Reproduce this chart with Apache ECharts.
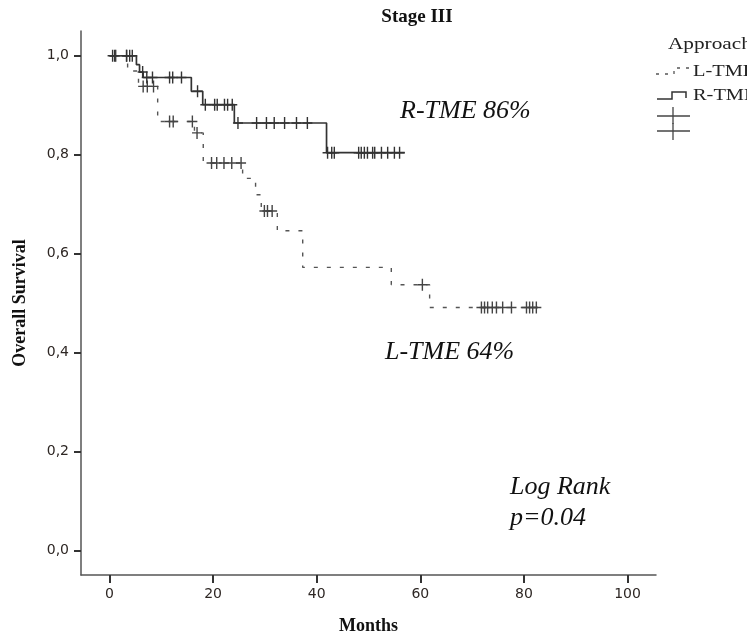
<!DOCTYPE html>
<html>
<head>
<meta charset="utf-8">
<script src="https://cdn.jsdelivr.net/npm/echarts@6/dist/echarts.min.js"></script>
<style>
  html, body { margin: 0; padding: 0; background: #fff; }
  #chart { width: 747px; height: 640px; }
</style>
</head>
<body>
<div id="chart"></div>
<script>
// Kaplan-Meier steps (months, survival after the event)
const lTime = [0, 3.5, 5.6, 9.3, 16.4, 18.1, 25.7, 28.2, 29.3, 32.4, 37.3, 54.4, 61.8, 83.4];
const lSurv = [1, 0.969, 0.938, 0.867, 0.844, 0.783, 0.752, 0.719, 0.686, 0.646, 0.572, 0.537, 0.491, 0.491];
const lCens = [1.2, 3.3, 6.5, 7.3, 8.5, 11.6, 12.3, 16.0, 16.9, 19.7, 20.7, 22.1, 23.6, 25.4,
  29.9, 30.5, 31.4, 60.4, 71.8, 72.4, 73.0, 73.9, 74.7, 75.9, 77.6, 80.5, 81.1, 81.7, 82.4];

const rTime = [0, 5.2, 5.8, 6.5, 15.8, 18.0, 24.1, 41.9, 57];
const rSurv = [1, 0.982, 0.967, 0.956, 0.928, 0.901, 0.864, 0.804, 0.804];
const rCens = [0.6, 1.0, 3.3, 3.9, 4.4, 6.4, 7.2, 8.3, 11.6, 12.2, 13.9, 17.0, 18.5, 20.3, 20.8,
  22.2, 22.8, 23.7, 24.8, 28.4, 30.3, 31.8, 33.8, 36.1, 38.2, 42.1, 42.9, 43.4, 48.1, 48.6,
  49.2, 49.8, 50.8, 51.2, 52.5, 53.7, 55.0, 56.0];

const xTicks = [0, 20, 40, 60, 80, 100];
const yTicks = [0, 0.2, 0.4, 0.6, 0.8, 1.0];

// survival level at time t from the step arrays
function survAt(times, surv, t) {
  let s = surv[0];
  for (let i = 0; i < times.length; i++) {
    if (times[i] <= t) s = surv[i];
  }
  return s;
}

const plus = 'path://M4.3,0H5.7V4.4H10V5.6H5.7V10H4.3V5.6H0V4.4H4.3Z';
const serif = '"Liberation Serif", "DejaVu Serif", serif';
const sans = '"DejaVu Sans", sans-serif';

let ec = echarts.init(document.getElementById('chart'));
let option = {
  backgroundColor: '#fff',
  animation: false,
  title: {
    text: 'Stage III',
    left: 412,
    top: 3,
    textAlign: 'center',
    textStyle: { fontFamily: serif, fontSize: 19, fontWeight: 'bold', color: '#111' }
  },
  grid: { left: 81, right: 91, top: 31, bottom: 64 },
  xAxis: {
    type: 'value',
    min: -5.5,
    max: 105.5,
    name: 'Months',
    nameLocation: 'middle',
    nameGap: 42,
    nameTextStyle: { fontFamily: serif, fontSize: 18, fontWeight: 'bold', color: '#111' },
    splitLine: { show: false },
    axisLine: { show: true, onZero: false, lineStyle: { color: '#555', width: 1.5 } },
    axisTick: { show: true, customValues: xTicks, length: 8, lineStyle: { color: '#333', width: 2 } },
    axisLabel: {
      customValues: xTicks,
      margin: 12,
      fontFamily: sans,
      fontSize: 14,
      color: '#2e2724'
    }
  },
  yAxis: {
    type: 'value',
    min: -0.05,
    max: 1.05,
    name: 'Overall Survival',
    nameLocation: 'middle',
    nameGap: 52,
    nameTextStyle: { fontFamily: serif, fontSize: 18, fontWeight: 'bold', color: '#111' },
    splitLine: { show: false },
    axisLine: { show: true, onZero: false, lineStyle: { color: '#555', width: 1.5 } },
    axisTick: { show: true, customValues: yTicks, length: 7, lineStyle: { color: '#333', width: 2 } },
    axisLabel: {
      customValues: yTicks,
      margin: 12,
      fontFamily: sans,
      fontSize: 14,
      color: '#2e2724',
      formatter: v => v.toFixed(1).replace('.', ',')
    }
  },
  series: [
    {
      name: 'L-TME',
      type: 'line',
      step: 'end',
      showSymbol: false,
      data: lTime.map((t, i) => [t, lSurv[i]]),
      lineStyle: { color: '#555', width: 1.4, type: [4, 9] },
      z: 2
    },
    {
      name: 'R-TME',
      type: 'line',
      step: 'end',
      showSymbol: false,
      data: rTime.map((t, i) => [t, rSurv[i]]),
      lineStyle: { color: '#333', width: 1.7 },
      z: 3
    },
    {
      name: 'L-TME censored',
      type: 'scatter',
      symbol: plus,
      symbolSize: [10, 12],
      data: lCens.map(t => [t, survAt(lTime, lSurv, t)]),
      itemStyle: { color: '#444', opacity: 1 },
      z: 4
    },
    {
      name: 'R-TME censored',
      type: 'scatter',
      symbol: plus,
      symbolSize: [10, 12],
      data: rCens.map(t => [t, survAt(rTime, rSurv, t)]),
      itemStyle: { color: '#333', opacity: 1 },
      z: 4
    }
  ],
  graphic: [
    { type: 'text', left: 400, top: 98, style: { text: 'R-TME 86%', font: 'italic 26px ' + serif, fill: '#111' } },
    { type: 'text', left: 385, top: 339, style: { text: 'L-TME 64%', font: 'italic 26px ' + serif, fill: '#111' } },
    { type: 'text', left: 510, top: 474, style: { text: 'Log Rank', font: 'italic 26px ' + serif, fill: '#111' } },
    { type: 'text', left: 510, top: 505, style: { text: 'p=0.04', font: 'italic 26px ' + serif, fill: '#111' } },
    // legend
    { type: 'text', x: 668, y: 36, scaleX: 1.25, style: { text: 'Approach', font: '17px ' + serif, fill: '#222' } },
    { type: 'text', x: 693, y: 63, scaleX: 1.2, style: { text: 'L-TME', font: '17px ' + serif, fill: '#222' } },
    { type: 'text', x: 693, y: 87, scaleX: 1.2, style: { text: 'R-TME', font: '17px ' + serif, fill: '#222' } },
    { type: 'polyline', shape: { points: [[656, 74], [674, 74], [674, 68], [691, 68]] },
      style: { stroke: '#555', lineWidth: 1.3, lineDash: [3, 6], fill: null } },
    { type: 'polyline', shape: { points: [[657, 99], [672, 99], [672, 92], [686, 92], [686, 98]] },
      style: { stroke: '#333', lineWidth: 1.5, fill: null } },
    { type: 'line', shape: { x1: 657, y1: 116, x2: 690, y2: 116 }, style: { stroke: '#444', lineWidth: 1.3 } },
    { type: 'line', shape: { x1: 673, y1: 107, x2: 673, y2: 124 }, style: { stroke: '#444', lineWidth: 1.3 } },
    { type: 'line', shape: { x1: 657, y1: 131, x2: 690, y2: 131 }, style: { stroke: '#444', lineWidth: 1.3 } },
    { type: 'line', shape: { x1: 673, y1: 123, x2: 673, y2: 140 }, style: { stroke: '#444', lineWidth: 1.3 } }
  ]
};
ec.setOption(option);
</script>
</body>
</html>
